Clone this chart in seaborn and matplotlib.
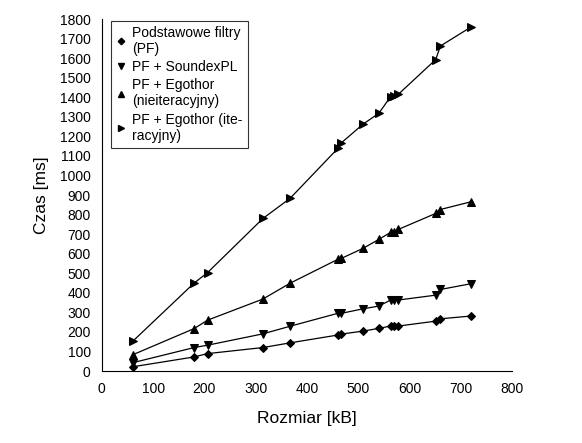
import numpy as np
import pandas as pd
import seaborn as sns
import matplotlib.pyplot as plt
from matplotlib.lines import Line2D

rozmiar = [61, 180, 206, 314, 367, 460, 467, 509, 540, 563, 570, 578, 651, 660, 719]

pf = [22, 72, 89, 120, 144, 184, 189, 204, 218, 230, 230, 230, 255, 267, 281]
pf_soundex = [43, 120, 132, 190, 229, 295, 295, 318, 332, 363, 363, 363, 388, 417, 446]
pf_egothor_nieit = [84, 217, 260, 368, 449, 571, 576, 627, 673, 709, 712, 724, 806, 826, 865]
pf_egothor_it = [154, 450, 503, 780, 883, 1138, 1167, 1262, 1318, 1403, 1407, 1415, 1593, 1662, 1758]

etykiety = ["Podstawowe filtry\n(PF)", "PF + SoundexPL",
            "PF + Egothor\n(nieiteracyjny)", "PF + Egothor (ite-\nracyjny)"]
markery = ["D", "v", "^", ">"]
rozmiary_markerow = [3.8, 5.5, 5.5, 5.5]

sns.set_style("white")
plt.rcParams['font.family'] = ['Liberation Sans', 'DejaVu Sans']
plt.rcParams['text.color'] = 'black'
plt.rcParams['axes.labelcolor'] = 'black'

fig = plt.figure(figsize=(5.82, 4.43), dpi=100)
ax = fig.add_axes([0.175, 0.1625, 0.705, 0.7945])

serie = [pf, pf_soundex, pf_egothor_nieit, pf_egothor_it]
uchwyty = []
for dane, etykieta, m, ms in zip(serie, etykiety, markery, rozmiary_markerow):
    df = pd.DataFrame({"Rozmiar": rozmiar, "Czas": dane})
    sns.lineplot(data=df, x="Rozmiar", y="Czas", ax=ax, color="black",
                 linewidth=0.9, marker=m, markersize=ms,
                 markeredgecolor="black", markerfacecolor="black")
    uchwyty.append(Line2D([], [], linestyle="none", marker=m, markersize=ms - 0.5,
                          color="black", label=etykieta))

ax.set_xlim(0, 800)
ax.set_ylim(0, 1800)
ax.set_xticks(np.arange(0, 801, 100))
ax.set_yticks(np.arange(0, 1801, 100))
ax.tick_params(axis='both', direction='out', length=5, width=0.8,
               labelsize=10, color='black', labelcolor='black', pad=3)

for s in ["top", "right"]:
    ax.spines[s].set_visible(False)
for s in ["left", "bottom"]:
    ax.spines[s].set_color("black")
    ax.spines[s].set_linewidth(0.8)

ax.set_xlabel("Rozmiar [kB]", fontsize=12.5, labelpad=11, color="black")
ax.set_ylabel("Czas [ms]", fontsize=12.5, labelpad=8, color="black")

leg = ax.legend(handles=uchwyty, loc="upper left", bbox_to_anchor=(0.022, 0.995),
                fontsize=10, frameon=True, fancybox=False, handlelength=0.7,
                handletextpad=0.5, labelspacing=0.3, borderpad=0.35,
                borderaxespad=0.0)
for t in leg.get_texts():
    t.set_color("black")
leg.get_frame().set_edgecolor("black")
leg.get_frame().set_linewidth(0.8)

fig.savefig("out.png", dpi=100)
